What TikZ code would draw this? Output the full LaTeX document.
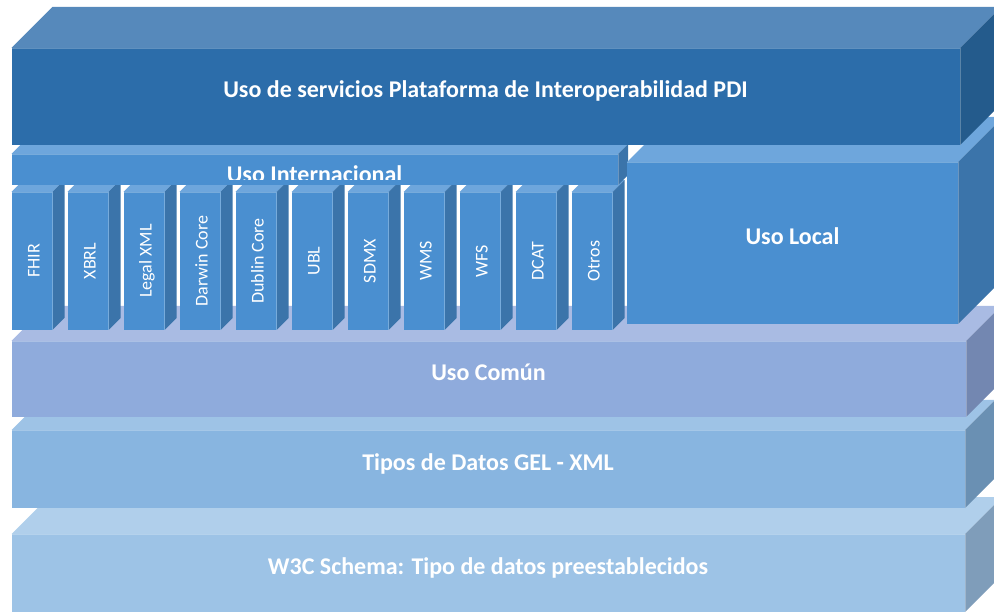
\documentclass[tikz,border=0pt]{standalone}
\usepackage{fontspec}
\setmainfont{Carlito}

\definecolor{pdiFront}{HTML}{2C6DAA}
\definecolor{pdiTop}{HTML}{5689BB}
\definecolor{pdiSide}{HTML}{245B8C}
\definecolor{midFront}{HTML}{4A8FD0}
\definecolor{midTop}{HTML}{6EA6DC}
\definecolor{midSide}{HTML}{3B74AA}
\definecolor{comFront}{HTML}{8FABDC}
\definecolor{comTop}{HTML}{A9BBE3}
\definecolor{comSide}{HTML}{7387B1}
\definecolor{gelFront}{HTML}{88B5E0}
\definecolor{gelTop}{HTML}{9EC3E6}
\definecolor{gelSide}{HTML}{6A90B3}
\definecolor{wFront}{HTML}{9DC3E6}
\definecolor{wTop}{HTML}{B0CFEB}
\definecolor{wSide}{HTML}{7F9DBA}

% An oblique box: front face (x0,y0)-(x1,y1), depth d, then the colours
% of the front, top and right faces.  y grows downwards.
\newcommand\layerbox[8]{%
  \fill[#7] (#1,#2) -- (#3,#2) -- ({#3+#5},{#2-#5}) -- ({#1+#5},{#2-#5}) -- cycle;
  \fill[#8] (#3,#2) -- ({#3+#5},{#2-#5}) -- ({#3+#5},{#4-#5}) -- (#3,#4) -- cycle;
  \fill[#6] (#1,#2) rectangle (#3,#4);
  \draw[faceedge] (#1,#2) -- (#3,#2) -- (#3,#4);
}

% A vertical bar of the international row, with its rotated label
\newcommand\stdbar[3]{%
  \layerbox{#1}{192}{#1+41}{330}{12}{midFront}{midTop}{midSide}
  \node[barlabel] (#2) at ({#1+28},261) {#3};
}

\tikzset{
  faceedge/.style={draw=white, draw opacity=0.25, line width=0.6pt},
  biglabel/.style={text=white, font=\bfseries\fontsize{24}{28}\selectfont,
    inner sep=0pt, anchor=base},
  barlabel/.style={text=white, font=\fontsize{18}{21}\selectfont,
    inner sep=0pt, anchor=base, rotate=90},
}

\begin{document}
\begin{tikzpicture}[x=1pt, y=-1pt]
\useasboundingbox (0,0) rectangle (994,612);
\clip (0,0) rectangle (994,612);

% base layers, from the bottom up
\layerbox{11.5}{534}{965}{612}{37}{wFront}{wTop}{wSide}
\layerbox{11.5}{430}{965}{508}{30}{gelFront}{gelTop}{gelSide}
\layerbox{11.5}{341}{966}{417}{35}{comFront}{comTop}{comSide}

% standards used internationally
\stdbar{11.5}{fhir}{FHIR}
\stdbar{67.5}{xbrl}{XBRL}
\stdbar{123.5}{legal}{Legal XML}
\stdbar{179.5}{darwin}{Darwin Core}
\stdbar{235.5}{dublin}{Dublin Core}
\stdbar{291.5}{ubl}{UBL}
\stdbar{347.5}{sdmx}{SDMX}
\stdbar{403.5}{wms}{WMS}
\stdbar{459.5}{wfs}{WFS}
\stdbar{515.5}{dcat}{DCAT}
\stdbar{571.5}{otros}{Otros}

% international row header (its label is cut by the face)
\layerbox{11.5}{154}{618}{185}{10}{midFront}{midTop}{midSide}
\begin{scope}
  \clip (11.5,154) rectangle (618,180);
  \node[biglabel] (intl) at (314.5,182.5) {Uso Internacional};
\end{scope}

% local use block
\layerbox{627}{162}{958}{324}{45}{midFront}{midTop}{midSide}

% platform layer on top
\layerbox{11.5}{48}{960}{145}{41}{pdiFront}{pdiTop}{pdiSide}

% layer labels
\node[biglabel] (pdi) at (485.5,98) {Uso de servicios Plataforma de Interoperabilidad PDI};
\node[biglabel] (local) at (792.5,244.5) {Uso Local};
\node[biglabel] (comun) at (488.5,381) {Uso Común};
\node[biglabel] (gel) at (488,471) {Tipos de Datos GEL - XML};
\node[biglabel] (w3c) at (488,574) {W3C Schema: Tipo de datos preestablecidos};
\end{tikzpicture}
\end{document}
